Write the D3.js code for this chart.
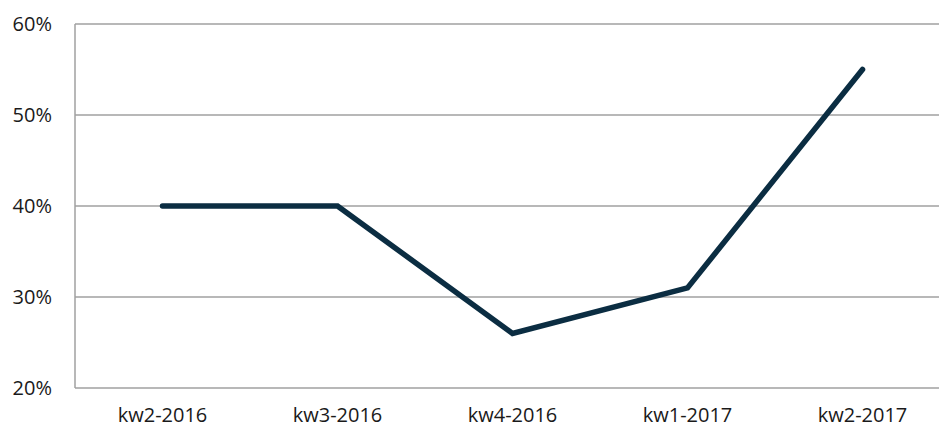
<!DOCTYPE html>
<html>
<head>
<meta charset="utf-8">
<script src="https://cdn.jsdelivr.net/npm/d3@7"></script>
<style>
  body { margin: 0; background: #fff; }
  svg { display: block; font-family: "Open Sans", "Liberation Sans", sans-serif; }
</style>
</head>
<body>
<svg width="939" height="429"></svg>
<script>
const categories = ['kw2-2016', 'kw3-2016', 'kw4-2016', 'kw1-2017', 'kw2-2017']
const values = [0.40, 0.40, 0.26, 0.31, 0.55]
const yTicks = [0.2, 0.3, 0.4, 0.5, 0.6]

const svg = d3.select('svg')
const width = +svg.attr('width')
const height = +svg.attr('height')
const margin = { top: 24, right: -11, bottom: 41, left: 75 }
const innerWidth = width - margin.left - margin.right
const innerHeight = height - margin.top - margin.bottom

const g = svg.append('g')
  .attr('transform', 'translate(' + margin.left + ',' + margin.top + ')')

const xScale = d3.scaleBand()
  .domain(categories)
  .range([0, innerWidth])

const yScale = d3.scaleLinear()
  .domain([0.2, 0.6])
  .range([innerHeight, 0])

// gridlines
g.append('g')
  .selectAll('line')
  .data(yTicks)
  .join('line')
  .attr('x1', 0)
  .attr('x2', width - margin.left)
  .attr('y1', d => yScale(d))
  .attr('y2', d => yScale(d))
  .attr('stroke', '#a0a0a0')
  .attr('stroke-width', 1.5)

// left axis line
g.append('line')
  .attr('x1', 0).attr('x2', 0)
  .attr('y1', 0).attr('y2', innerHeight)
  .attr('stroke', '#a0a0a0')
  .attr('stroke-width', 1.5)

const yAxis = g.append('g')
  .call(d3.axisLeft(yScale).tickValues(yTicks).tickFormat(d3.format('.0%')).tickSize(0).tickPadding(23))
yAxis.select('.domain').remove()
yAxis.selectAll('text')
  .attr('font-size', 20)
  .attr('fill', '#1a1a1a')
  .attr('font-family', '"Open Sans", sans-serif')

const xAxis = g.append('g')
  .attr('transform', 'translate(0,' + innerHeight + ')')
  .call(d3.axisBottom(xScale).tickSize(0).tickPadding(20))
xAxis.select('.domain').remove()
xAxis.selectAll('text')
  .attr('font-size', 20)
  .attr('fill', '#1a1a1a')
  .attr('font-family', '"Open Sans", sans-serif')

const line = d3.line()
  .x((d, i) => xScale(categories[i]) + xScale.bandwidth() / 2)
  .y(d => yScale(d))

g.append('path')
  .datum(values)
  .attr('d', line)
  .attr('fill', 'none')
  .attr('stroke', '#0b2d42')
  .attr('stroke-width', 5.5)
  .attr('stroke-linecap', 'round')
  .attr('stroke-linejoin', 'miter')
</script>
</body>
</html>
